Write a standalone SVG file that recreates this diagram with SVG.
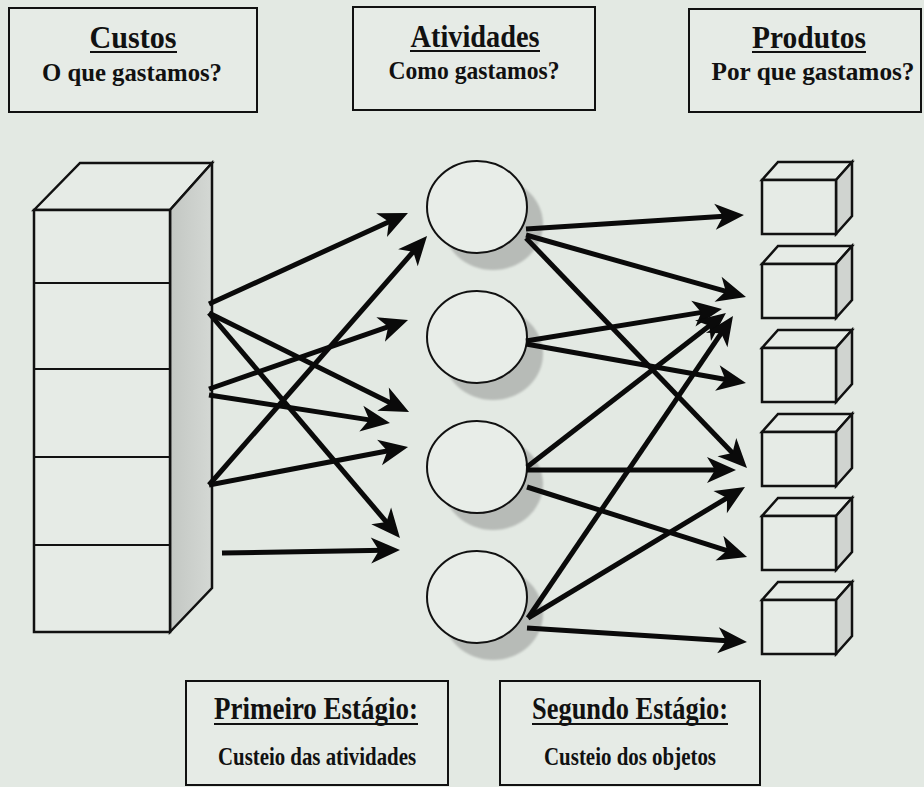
<svg xmlns="http://www.w3.org/2000/svg" width="924" height="787" viewBox="0 0 924 787">
  <defs>
    <style>
      .bg{fill:#e3e9e3}
      .frame{fill:#e6ebe6;stroke:#111;stroke-width:2}
      .txt{font-family:"Liberation Serif","Times New Roman",serif;font-weight:bold;fill:#111;text-anchor:middle}
      .t1{font-size:32px}
      .t2{font-size:26px}
      .t3{font-size:32px}
      .t4{font-size:25px}
      .ul{stroke:#111;stroke-width:2.2}
      .face{fill:#e6ebe6;stroke:#111;stroke-width:2.5;stroke-linejoin:miter}
      .shelf{stroke:#111;stroke-width:2.2}
      .side{fill:url(#sideGrad);stroke:#111;stroke-width:2.5;stroke-linejoin:miter}
      .bside{fill:#d0d4d0;stroke:#111;stroke-width:2.5;stroke-linejoin:miter}
      .act{fill:#e8ede8;stroke:#111;stroke-width:2}
      .shadow{fill:#b7bbb7;filter:url(#soft)}
      .arrow{stroke:#0a0a0a;stroke-width:5;fill:none;marker-end:url(#ah)}
    </style>
    <linearGradient id="sideGrad" x1="0" x2="1" y1="0" y2="0">
      <stop offset="0" stop-color="#c3c7c3"/>
      <stop offset="1" stop-color="#d4d8d4"/>
    </linearGradient>
    <filter id="soft" x="-20%" y="-20%" width="140%" height="140%">
      <feGaussianBlur stdDeviation="1.2"/>
    </filter>
    <marker id="ah" markerUnits="userSpaceOnUse" viewBox="-15 -15 34 30" markerWidth="34" markerHeight="30" refX="0" refY="0" orient="auto">
      <path d="M16,0 L-13,-13 L-5,0 L-13,13 Z" fill="#0a0a0a"/>
    </marker>
    <!-- product box, origin at the top-left corner of the front face -->
    <g id="cube">
      <polygon class="face" points="0,0 16,-18 90,-18 74,0"/>
      <polygon class="bside" points="74,0 90,-18 90,36 74,54"/>
      <rect class="face" x="0" y="0" width="74" height="54"/>
    </g>
  </defs>

  <rect class="bg" x="0" y="0" width="924" height="787"/>

  <!-- header boxes -->
  <g id="hdr-custos">
    <rect class="frame" x="9" y="8" width="248" height="104"/>
    <text class="txt t1" x="133" y="48" textLength="87" lengthAdjust="spacingAndGlyphs">Custos</text>
    <line class="ul" x1="90" y1="52" x2="177" y2="52"/>
    <text class="txt t2" x="132" y="81" textLength="180" lengthAdjust="spacingAndGlyphs">O que gastamos?</text>
  </g>
  <g id="hdr-atividades">
    <rect class="frame" x="353" y="7" width="242" height="103"/>
    <text class="txt t1" x="475" y="47" textLength="129" lengthAdjust="spacingAndGlyphs">Atividades</text>
    <line class="ul" x1="410" y1="51" x2="540" y2="51"/>
    <text class="txt t2" x="474" y="79" textLength="171" lengthAdjust="spacingAndGlyphs">Como gastamos?</text>
  </g>
  <g id="hdr-produtos">
    <rect class="frame" x="689" y="9" width="232" height="103"/>
    <text class="txt t1" x="809" y="48" textLength="114" lengthAdjust="spacingAndGlyphs">Produtos</text>
    <line class="ul" x1="752" y1="52" x2="866" y2="52"/>
    <text class="txt t2" x="813" y="80" textLength="203" lengthAdjust="spacingAndGlyphs">Por que gastamos?</text>
  </g>

  <!-- cost cabinet -->
  <g id="cabinet">
    <polygon class="face" points="34,210 80,163 212,163 170,210"/>
    <polygon class="side" points="170,210 212,163 212,588 170,632"/>
    <rect class="face" x="34" y="210" width="136" height="422"/>
    <line class="shelf" x1="35" y1="283" x2="170" y2="283"/>
    <line class="shelf" x1="35" y1="369" x2="170" y2="369"/>
    <line class="shelf" x1="35" y1="457" x2="170" y2="457"/>
    <line class="shelf" x1="35" y1="545" x2="170" y2="545"/>
  </g>

  <!-- activities -->
  <g id="act1">
    <ellipse class="shadow" cx="493" cy="224" rx="50" ry="46"/>
    <ellipse class="act" cx="477" cy="207" rx="50" ry="46"/>
  </g>
  <g id="act2">
    <ellipse class="shadow" cx="493" cy="354" rx="50" ry="46"/>
    <ellipse class="act" cx="477" cy="337" rx="50" ry="46"/>
  </g>
  <g id="act3">
    <ellipse class="shadow" cx="493" cy="484" rx="50" ry="46"/>
    <ellipse class="act" cx="477" cy="467" rx="50" ry="46"/>
  </g>
  <g id="act4">
    <ellipse class="shadow" cx="493" cy="614" rx="50" ry="46"/>
    <ellipse class="act" cx="477" cy="597" rx="50" ry="46"/>
  </g>

  <!-- products -->
  <g id="prod1"><use href="#cube" x="762" y="180"/></g>
  <g id="prod2"><use href="#cube" x="762" y="264"/></g>
  <g id="prod3"><use href="#cube" x="762" y="348"/></g>
  <g id="prod4"><use href="#cube" x="762" y="432"/></g>
  <g id="prod5"><use href="#cube" x="762" y="516"/></g>
  <g id="prod6"><use href="#cube" x="762" y="600"/></g>

  <g id="connectors">
    <!-- first stage: costs to activities -->
    <line class="arrow" x1="209" y1="304" x2="393.4" y2="219.7"/>
    <line class="arrow" x1="209" y1="313" x2="394.7" y2="404.9"/>
    <line class="arrow" x1="209" y1="313" x2="389.6" y2="525.8"/>
    <line class="arrow" x1="209" y1="389" x2="392.9" y2="325.2"/>
    <line class="arrow" x1="209" y1="395" x2="374.2" y2="420.6"/>
    <line class="arrow" x1="209" y1="485" x2="416.5" y2="248.0"/>
    <line class="arrow" x1="209" y1="485" x2="392.3" y2="450.0"/>
    <line class="arrow" x1="222" y1="553" x2="384.0" y2="550.3"/>
    <!-- second stage: activities to products -->
    <line class="arrow" x1="526" y1="229" x2="728.0" y2="216.0"/>
    <line class="arrow" x1="526" y1="235" x2="730.6" y2="292.7"/>
    <line class="arrow" x1="526" y1="238" x2="735.9" y2="456.5"/>
    <line class="arrow" x1="526" y1="341" x2="706.2" y2="311.6"/>
    <line class="arrow" x1="526" y1="344" x2="730.2" y2="380.2"/>
    <line class="arrow" x1="527" y1="467" x2="713.3" y2="322.8"/>
    <line class="arrow" x1="527" y1="470" x2="720" y2="470"/>
    <line class="arrow" x1="527" y1="487" x2="731.8" y2="552.1"/>
    <line class="arrow" x1="528" y1="618" x2="724.0" y2="329.2"/>
    <line class="arrow" x1="528" y1="618" x2="731.3" y2="495.3"/>
    <line class="arrow" x1="527" y1="628" x2="731.0" y2="641.0"/>
  </g>

  <!-- stage captions -->
  <g id="stage1">
    <rect class="frame" x="186" y="681" width="262" height="104"/>
    <text class="txt t3" x="316" y="719" textLength="204" lengthAdjust="spacingAndGlyphs">Primeiro Estágio:</text>
    <line class="ul" x1="214" y1="724" x2="418" y2="724"/>
    <text class="txt t4" x="317" y="765" textLength="198" lengthAdjust="spacingAndGlyphs">Custeio das atividades</text>
  </g>
  <g id="stage2">
    <rect class="frame" x="500" y="681" width="260" height="104"/>
    <text class="txt t3" x="630" y="719" textLength="196" lengthAdjust="spacingAndGlyphs">Segundo Estágio:</text>
    <line class="ul" x1="532" y1="724" x2="728" y2="724"/>
    <text class="txt t4" x="630" y="765" textLength="172" lengthAdjust="spacingAndGlyphs">Custeio dos objetos</text>
  </g>
</svg>
